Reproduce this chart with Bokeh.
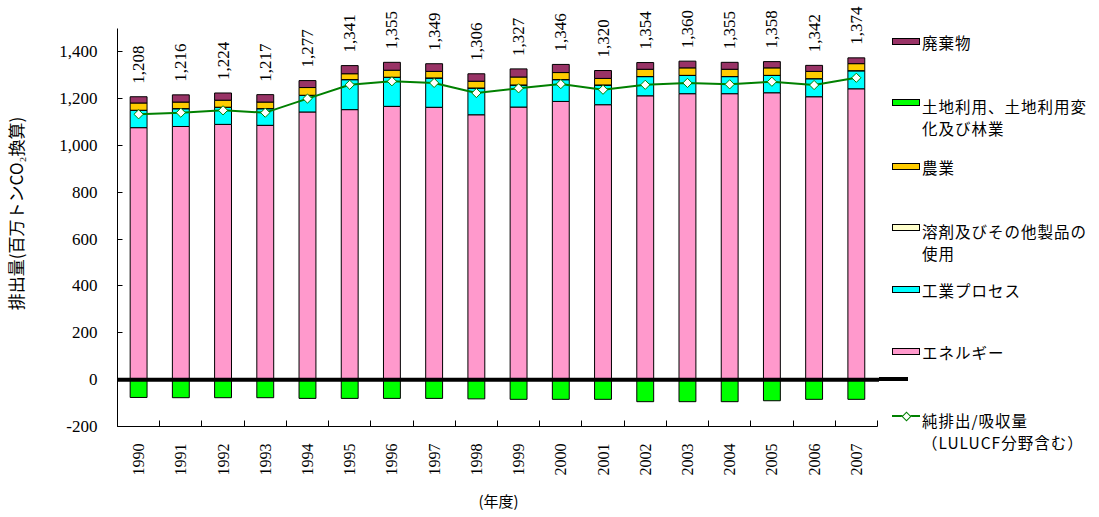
import math
from bokeh.plotting import figure
from bokeh.layouts import row
from bokeh.models import ColumnDataSource, FixedTicker, NumeralTickFormatter, Range1d, Div
from bokeh.core.properties import value
from bokeh.embed import file_html
from bokeh.resources import INLINE

# ---------------- data ----------------
years = ["1990", "1991", "1992", "1993", "1994", "1995", "1996", "1997", "1998",
         "1999", "2000", "2001", "2002", "2003", "2004", "2005", "2006", "2007"]
energy = [1076, 1081, 1090, 1086, 1143, 1153, 1167, 1163, 1131,
          1164, 1188, 1174, 1212, 1221, 1221, 1225, 1208, 1242]
industry = [74, 76, 73, 71, 71, 128, 124, 125, 114,
            94, 93, 84, 82, 78, 73, 74, 77, 77]
solvent = [0.3, 0.3, 0.3, 0.3, 0.3, 0.3, 0.3, 0.3, 0.3,
           0.3, 0.3, 0.3, 0.3, 0.3, 0.3, 0.3, 0.3, 0.3]
agriculture = [31, 28, 30, 28, 33, 25, 30, 28, 29,
               34, 30, 28, 31, 32, 31, 32, 31, 30]
waste = [26.7, 30.7, 30.7, 31.7, 29.7, 34.7, 33.7, 32.7, 31.7,
         34.7, 34.7, 33.7, 28.7, 28.7, 29.7, 26.7, 25.7, 24.7]
lulucf = [-76, -77, -77, -77, -80, -80, -80, -80, -82,
          -84, -84, -84, -94, -94, -94, -90, -84, -84]
totals = [1208, 1216, 1224, 1217, 1277, 1341, 1355, 1349, 1306,
          1327, 1346, 1320, 1354, 1360, 1355, 1358, 1342, 1374]
net = [1133, 1140, 1150, 1140, 1200, 1259, 1274, 1267, 1224,
       1244, 1262, 1238, 1259, 1267, 1261, 1272, 1258, 1289]
y_ticks = [-200, 0, 200, 400, 600, 800, 1000, 1200, 1400]

colors = ["#FF99CC", "#00FFFF", "#FFFFCC", "#FFCC00", "#993366"]
lulucf_color = "#00FF00"
net_color = "#008000"

# legend: (colour, swatch centre y, [text lines])
legend_entries = [
    ("#993366", 41, ["廃棄物"]),
    (lulucf_color, 102, ["土地利用、土地利用変", "化及び林業"]),
    ("#FFCC00", 166, ["農業"]),
    ("#FFFFCC", 227, ["溶剤及びその他製品の", "使用"]),
    ("#00FFFF", 289, ["工業プロセス"]),
    ("#FF99CC", 351, ["エネルギー"]),
]
net_legend = (416, ["純排出/吸収量", "（LULUCF分野含む）"])

# ---------------- geometry ----------------
TOTAL_W, TOTAL_H = 1099, 517
MAIN_W = 879
LEG_W = TOTAL_W - MAIN_W
BORDER_L, BORDER_B = 115, 91
FRAME_W = MAIN_W - BORDER_L
FRAME_H = TOTAL_H - BORDER_B
CAT_PX = 42.33
PX_PER_UNIT = 0.2342
Y_MIN, Y_AXIS_MAX = -200, 1500

n = len(years)
xs = list(range(n))
x_start = -0.5
x_end = x_start + FRAME_W / CAT_PX
y_end = Y_MIN + FRAME_H / PX_PER_UNIT
zero_page_y = FRAME_H - (0 - Y_MIN) * PX_PER_UNIT
ZERO_LINE_END = 908

p = figure(width=MAIN_W, height=TOTAL_H,
           x_range=Range1d(x_start, x_end), y_range=Range1d(Y_MIN, y_end),
           output_backend="svg", toolbar_location=None,
           min_border_left=BORDER_L, min_border_right=0,
           min_border_top=0, min_border_bottom=BORDER_B)
p.outline_line_color = None
p.grid.visible = False

# ---------------- axes ----------------
xa = p.xaxis[0]
xa.ticker = FixedTicker(ticks=xs, minor_ticks=[i - 0.5 for i in range(n + 1)])
xa.major_label_overrides = {i: y for i, y in enumerate(years)}
xa.bounds = (-0.5, n - 0.5)
xa.major_label_orientation = math.pi / 2
xa.major_tick_line_color = None
xa.major_tick_in = 0
xa.major_tick_out = 0
xa.minor_tick_in = 6
xa.minor_tick_out = 0
xa.minor_tick_line_color = "black"
xa.axis_line_color = "black"
xa.major_label_standoff = 17
xa.major_label_text_font = "Liberation Serif"
xa.major_label_text_font_size = "16px"
xa.major_label_text_color = "black"
xa.axis_label = "(年度)"
xa.axis_label_text_font = "Noto Sans CJK JP"
xa.axis_label_text_font_size = "15px"
xa.axis_label_text_font_style = "normal"
xa.axis_label_text_color = "black"
xa.axis_label_standoff = 11

ya = p.yaxis[0]
ya.ticker = FixedTicker(ticks=y_ticks)
ya.formatter = NumeralTickFormatter(format="0,0")
ya.bounds = (Y_MIN, Y_AXIS_MAX)
ya.major_tick_in = 5
ya.major_tick_out = 0
ya.major_tick_line_color = "black"
ya.minor_tick_line_color = None
ya.axis_line_color = "black"
ya.major_label_standoff = 20
ya.major_label_text_font = "Liberation Serif"
ya.major_label_text_font_size = "17px"
ya.major_label_text_color = "black"
ya.axis_label = "排出量(百万トンCO₂換算)"
ya.axis_label_text_font = "Noto Sans CJK JP"
ya.axis_label_text_font_size = "17px"
ya.axis_label_text_font_style = "normal"
ya.axis_label_text_color = "black"
ya.axis_label_standoff = 28

# ---------------- bars ----------------
src = ColumnDataSource(dict(x=xs, energy=energy, industry=industry, solvent=solvent,
                            agriculture=agriculture, waste=waste, lulucf=lulucf,
                            totals=totals, net=net,
                            labels=[f"{v:,}" for v in totals]))
stackers = ["energy", "industry", "solvent", "agriculture", "waste"]
p.vbar_stack(stackers, x="x", width=0.4, fill_color=colors, line_color="black",
             line_width=1, source=src)
p.vbar(x="x", top=0, bottom="lulucf", width=0.4, fill_color=lulucf_color,
       line_color="black", line_width=1, source=src)

# zero line
p.line([x_start, x_end], [0, 0], line_color="black", line_width=4)

# net line
p.line(x="x", y="net", line_color=net_color, line_width=2, source=src)
p.scatter(x="x", y="net", marker="square", angle=math.pi / 4, size=6.5,
          fill_color="white", line_color=net_color, line_width=1, source=src)

# totals
p.text(x="x", y="totals", text="labels", angle=math.pi / 2, text_align="left",
       text_baseline="middle", y_offset=-13, text_font=value("Liberation Serif"),
       text_font_size="17px", text_color="black", source=src)

# ---------------- legend (HTML, pixel positioned) ----------------
SW_L = 892 - MAIN_W
SW_W, SW_H = 28, 7
TXT_L = 922 - MAIN_W
LINE_H = 22.5


def text_block(center_y, lines):
    multi = len(lines) > 1
    top = center_y + (4 if multi else 1) - LINE_H / 2
    return (f'<div style="position:absolute;left:{TXT_L}px;top:{top:.1f}px;'
            f'line-height:{LINE_H}px;white-space:nowrap;">{"<br>".join(lines)}</div>')


parts = [f'<div style="position:absolute;left:0px;top:{zero_page_y - 2:.1f}px;'
         f'width:{ZERO_LINE_END - MAIN_W}px;height:4px;background:#000;"></div>']
for col, cy, lines in legend_entries:
    parts.append(f'<div style="position:absolute;left:{SW_L}px;top:{cy - SW_H / 2:.1f}px;'
                 f'width:{SW_W}px;height:{SW_H}px;box-sizing:border-box;'
                 f'border:1px solid #000;background:{col};"></div>')
    parts.append(text_block(cy, lines))
ny, nlines = net_legend
parts.append(f'<div style="position:absolute;left:{SW_L}px;top:{ny - 1}px;width:{SW_W}px;'
             f'height:2px;background:{net_color};"></div>')
parts.append(f'<div style="position:absolute;left:{SW_L + SW_W / 2 - 3.5:.1f}px;top:{ny - 3.5:.1f}px;'
             f'width:7px;height:7px;box-sizing:border-box;border:1px solid {net_color};'
             f'background:#fff;transform:rotate(45deg);"></div>')
parts.append(text_block(ny, nlines))

html = ('<div style="position:relative;width:%dpx;height:%dpx;overflow:hidden;'
        'font-family:\'Noto Sans CJK JP\';font-size:15.5px;letter-spacing:1px;'
        'color:#000;background:#fff;">%s</div>'
        % (LEG_W, TOTAL_H, "".join(parts)))
legend_div = Div(text=html, width=LEG_W, height=TOTAL_H, margin=(0, 0, 0, 0))

layout = row(p, legend_div, spacing=0)
open("out.html", "w").write(file_html(layout, INLINE))
